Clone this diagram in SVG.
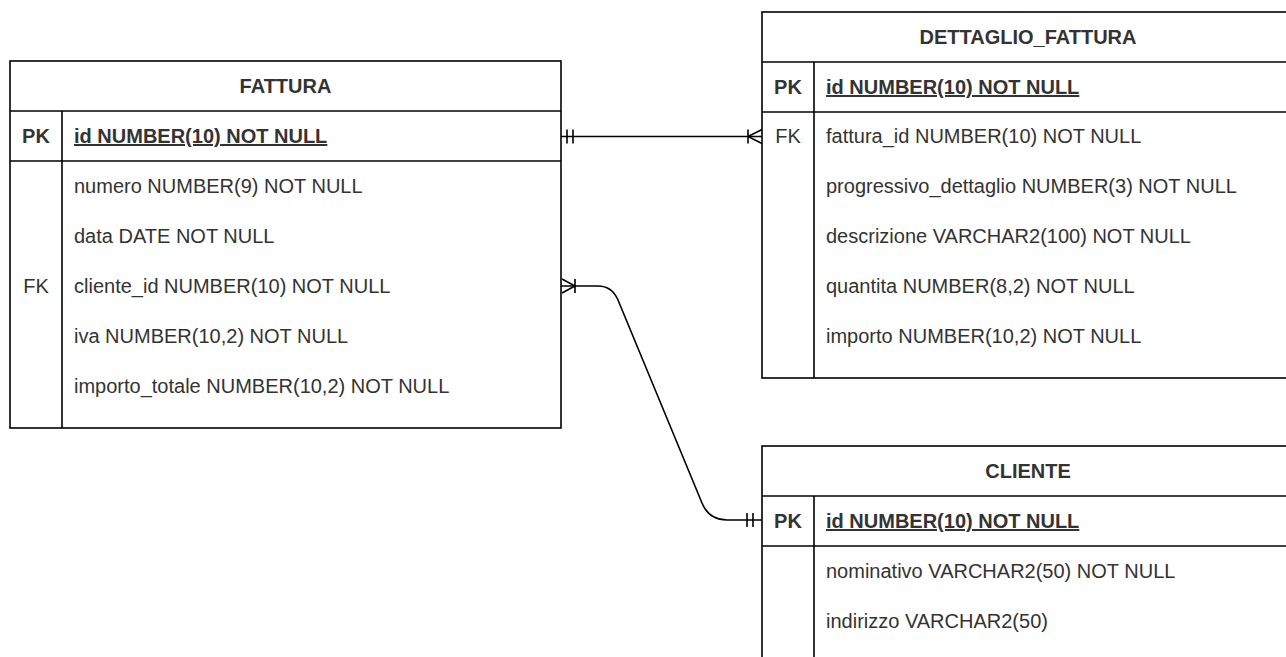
<svg xmlns="http://www.w3.org/2000/svg" width="1286" height="657" viewBox="0 0 1286 657">
<style>
.box{fill:#fff;stroke:#000;stroke-width:1.6}
.ln{stroke:#000;stroke-width:1.6;fill:none}
.t{font-family:"Liberation Sans",Arial,sans-serif;font-size:20px;fill:#333}
.h{font-weight:bold;text-anchor:middle}
.k{font-weight:bold;text-anchor:middle}
.kc{text-anchor:middle}
.pk{font-weight:bold;text-decoration:underline}
.c{stroke:#000;stroke-width:1.6;fill:none}
</style>
<rect width="1286" height="657" fill="#fff"/>
<g id="fattura">
<rect class="box" x="10" y="61" width="551" height="367"/>
<line class="ln" x1="10" y1="111" x2="561" y2="111"/>
<line class="ln" x1="10" y1="161" x2="561" y2="161"/>
<line class="ln" x1="62" y1="111" x2="62" y2="428"/>
<text class="t h" x="285.5" y="93">FATTURA</text>
<text class="t k" x="36" y="143">PK</text>
<text class="t pk" x="74" y="143">id NUMBER(10) NOT NULL</text>
<text class="t" x="74" y="193">numero NUMBER(9) NOT NULL</text>
<text class="t" x="74" y="243">data DATE NOT NULL</text>
<text class="t kc" x="36" y="293">FK</text>
<text class="t" x="74" y="293">cliente_id NUMBER(10) NOT NULL</text>
<text class="t" x="74" y="343">iva NUMBER(10,2) NOT NULL</text>
<text class="t" x="74" y="393">importo_totale NUMBER(10,2) NOT NULL</text>
</g>
<g id="dettaglio_fattura">
<rect class="box" x="762" y="12" width="532" height="366"/>
<line class="ln" x1="762" y1="62" x2="1294" y2="62"/>
<line class="ln" x1="762" y1="112" x2="1294" y2="112"/>
<line class="ln" x1="814" y1="62" x2="814" y2="378"/>
<text class="t h" x="1028" y="44">DETTAGLIO_FATTURA</text>
<text class="t k" x="788" y="94">PK</text>
<text class="t pk" x="826" y="94">id NUMBER(10) NOT NULL</text>
<text class="t kc" x="788" y="143">FK</text>
<text class="t" x="826" y="143">fattura_id NUMBER(10) NOT NULL</text>
<text class="t" x="826" y="193">progressivo_dettaglio NUMBER(3) NOT NULL</text>
<text class="t" x="826" y="243">descrizione VARCHAR2(100) NOT NULL</text>
<text class="t" x="826" y="293">quantita NUMBER(8,2) NOT NULL</text>
<text class="t" x="826" y="343">importo NUMBER(10,2) NOT NULL</text>
</g>
<g id="cliente">
<rect class="box" x="762" y="446" width="532" height="217"/>
<line class="ln" x1="762" y1="496" x2="1294" y2="496"/>
<line class="ln" x1="762" y1="546" x2="1294" y2="546"/>
<line class="ln" x1="814" y1="496" x2="814" y2="663"/>
<text class="t h" x="1028" y="478">CLIENTE</text>
<text class="t k" x="788" y="528">PK</text>
<text class="t pk" x="826" y="528">id NUMBER(10) NOT NULL</text>
<text class="t" x="826" y="578">nominativo VARCHAR2(50) NOT NULL</text>
<text class="t" x="826" y="628">indirizzo VARCHAR2(50)</text>
</g>
<g id="connectors">
<path class="c" d="M561,136.5 H762"/>
<path class="c" d="M567,129.5 V143.5 M573,129.5 V143.5"/>
<path class="c" d="M748,129.5 V143.5 M762,129.5 L748,136.5 L762,143.5"/>
<path class="c" d="M561,286 H598 Q612,286 618,300 L702,503 Q709,520 727,520 H762"/>
<path class="c" d="M562,279 L575,286 L562,293 M575,279 V293"/>
<path class="c" d="M747,513 V527 M753,513 V527"/>
</g>
</svg>
